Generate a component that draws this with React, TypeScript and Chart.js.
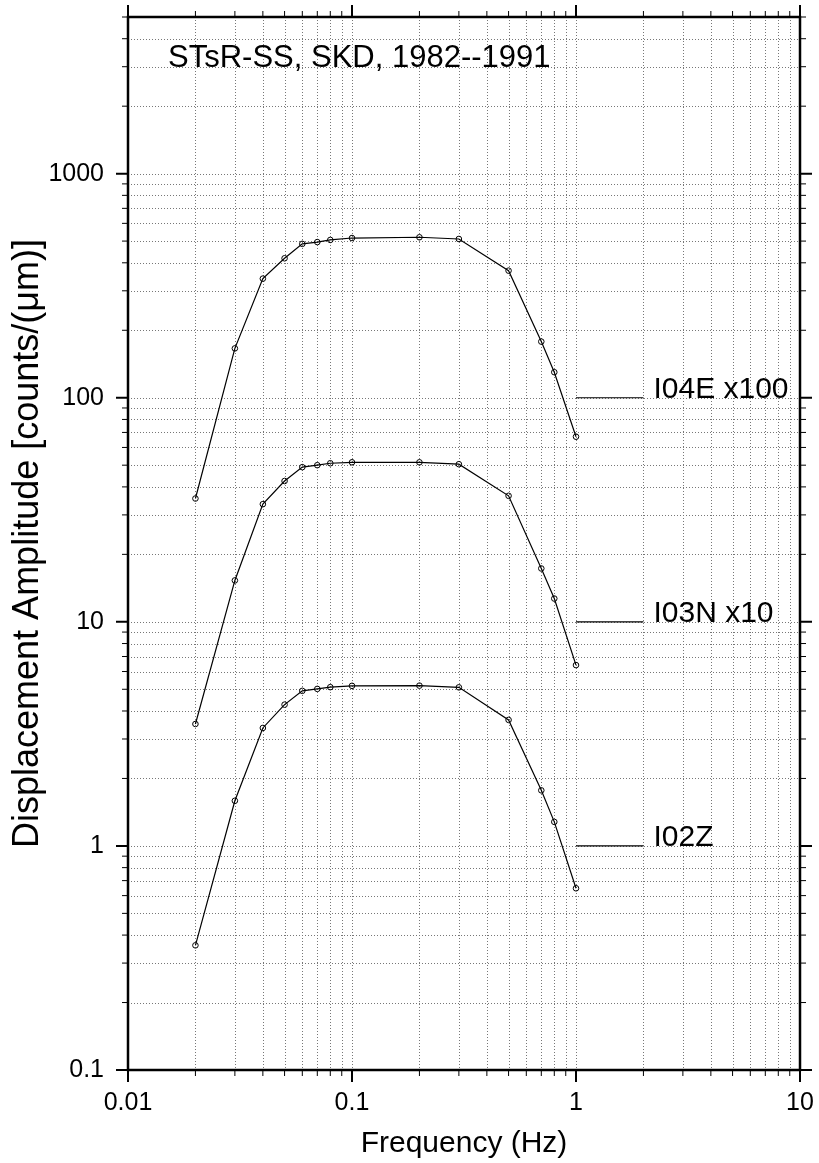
import React, { useEffect, useRef } from 'react';
import { Chart, registerables } from 'chart.js';

Chart.register(...registerables);

// ---- data ----
const freqs = [0.02, 0.03, 0.04, 0.05, 0.06, 0.07, 0.08, 0.1, 0.2, 0.3, 0.5, 0.7, 0.8, 1.0];
const i02z = [0.36, 1.59, 3.36, 4.27, 4.92, 5.02, 5.11, 5.18, 5.19, 5.1, 3.65, 1.77, 1.28, 0.647];
const i03n = [3.5, 15.3, 33.5, 42.5, 49, 50, 51, 51.5, 51.5, 50.5, 36.5, 17.3, 12.7, 6.41];
const i04e = [35.5, 166, 340, 419, 486, 495, 506, 516, 520, 511, 369, 178, 130, 67];

const labelNames = ['I02Z', 'I03N x10', 'I04E x100'];
const labelLevels = [1, 10, 100];
const labelFreqs = [1, 2];

const xMin = 0.01;
const xMax = 10;
const yMin = 0.1;
const yMax = 5000;

const titleText = 'STsR-SS, SKD, 1982--1991';
const xTitle = 'Frequency (Hz)';
const yTitle = 'Displacement Amplitude [counts/(\u03bcm)]';

const FONT = '"Liberation Sans", Arial, Helvetica, sans-serif';

function logTicks(min: number, max: number): number[] {
  const out: number[] = [];
  for (let e = Math.floor(Math.log10(min)); e <= Math.ceil(Math.log10(max)); e++) {
    for (let m = 1; m <= 9; m++) {
      const v = +(m * Math.pow(10, e)).toPrecision(6);
      if (v >= min * 0.999 && v <= max * 1.001) out.push(v);
    }
  }
  return out;
}
function isPow10(v: number) {
  const l = Math.log10(v);
  return Math.abs(l - Math.round(l)) < 1e-6;
}

const xTicks = logTicks(xMin, xMax);
const yTicks = logTicks(yMin, yMax);

const framePlugin = {
  id: 'framePlugin',
  beforeDatasetsDraw(chart: any) {
    const { ctx, chartArea: a, scales } = chart;
    const xs = scales.x, ys = scales.y;
    ctx.save();
    ctx.strokeStyle = '#777';
    ctx.lineWidth = 1;
    ctx.setLineDash([1, 2]);
    xTicks.forEach((v) => {
      if (v <= xMin || v >= xMax) return;
      const px = Math.round(xs.getPixelForValue(v)) + 0.5;
      ctx.beginPath();
      ctx.moveTo(px, a.top);
      ctx.lineTo(px, a.bottom);
      ctx.stroke();
    });
    yTicks.forEach((v) => {
      if (v <= yMin || v >= yMax) return;
      const py = Math.round(ys.getPixelForValue(v)) + 0.5;
      ctx.beginPath();
      ctx.moveTo(a.left, py);
      ctx.lineTo(a.right, py);
      ctx.stroke();
    });
    ctx.restore();
  },
  afterDatasetsDraw(chart: any) {
    const { ctx, chartArea: a, scales } = chart;
    const xs = scales.x, ys = scales.y;
    ctx.save();
    ctx.setLineDash([]);
    ctx.strokeStyle = '#000';
    xTicks.forEach((v) => {
      const major = isPow10(v);
      const len = major ? 12 : 6;
      ctx.lineWidth = major ? 2 : 1;
      const px = xs.getPixelForValue(v);
      ctx.beginPath();
      ctx.moveTo(px, a.bottom);
      ctx.lineTo(px, a.bottom + len);
      ctx.moveTo(px, a.top);
      ctx.lineTo(px, a.top - len);
      ctx.stroke();
    });
    yTicks.forEach((v) => {
      const major = isPow10(v);
      const len = major ? 12 : 6;
      ctx.lineWidth = major ? 2 : 1;
      const py = ys.getPixelForValue(v);
      ctx.beginPath();
      ctx.moveTo(a.left, py);
      ctx.lineTo(a.left - len, py);
      ctx.moveTo(a.right, py);
      ctx.lineTo(a.right + len, py);
      ctx.stroke();
    });
    ctx.lineWidth = 2.5;
    ctx.strokeRect(a.left, a.top, a.right - a.left, a.bottom - a.top);
    ctx.fillStyle = '#000';
    ctx.textAlign = 'left';
    ctx.textBaseline = 'alphabetic';
    ctx.font = `31px ${FONT}`;
    ctx.fillText(titleText, a.left + 40, a.top + 50);
    ctx.font = `30px ${FONT}`;
    labelNames.forEach((name, i) => {
      const px = xs.getPixelForValue(labelFreqs[1]) + 10;
      const py = ys.getPixelForValue(labelLevels[i]);
      ctx.fillText(name, px, py);
    });
    ctx.restore();
  },
};

export default function App() {
  const ref = useRef<HTMLCanvasElement | null>(null);
  useEffect(() => {
    if (!ref.current) return;
    const series = [i02z, i03n, i04e];
    const lineStyle = {
      borderColor: '#000',
      borderWidth: 1.2,
      pointRadius: 2.8,
      pointBorderWidth: 1,
      pointBorderColor: '#000',
      pointBackgroundColor: 'rgba(0,0,0,0)',
      fill: false,
      tension: 0,
    };
    const datasets: any[] = series.map((s, k) => ({
      label: labelNames[k],
      data: freqs.map((f, i) => ({ x: f, y: s[i] })),
      ...lineStyle,
    }));
    labelLevels.forEach((lv, k) => {
      datasets.push({
        label: labelNames[k] + ' marker',
        data: labelFreqs.map((f) => ({ x: f, y: lv })),
        borderColor: '#000',
        borderWidth: 1.2,
        pointRadius: 0,
        fill: false,
      });
    });
    const zeroPad = (s: any) => {
      s.paddingTop = 0;
      s.paddingBottom = 0;
      s.paddingLeft = 0;
      s.paddingRight = 0;
    };
    const chart = new Chart(ref.current, {
      type: 'line',
      data: { datasets },
      options: {
        responsive: false,
        animation: false,
        devicePixelRatio: 1,
        layout: { padding: { left: 0, right: 19, top: 17, bottom: 0 } },
        plugins: { legend: { display: false }, tooltip: { enabled: false } },
        scales: {
          x: {
            type: 'logarithmic',
            min: xMin,
            max: xMax,
            afterBuildTicks: (s: any) => {
              s.ticks = xTicks.map((v) => ({ value: v, major: isPow10(v) }));
            },
            afterFit: (s: any) => {
              s.height = 93;
              zeroPad(s);
            },
            grid: { display: false, drawTicks: false },
            border: { display: false },
            ticks: {
              autoSkip: false,
              maxRotation: 0,
              padding: 18,
              color: '#000',
              font: { family: FONT, size: 25 },
              callback: (v: any) => (isPow10(Number(v)) ? String(Number(v)) : ''),
            },
            title: {
              display: true,
              text: xTitle,
              color: '#000',
              font: { family: FONT, size: 30 },
              padding: { top: 0, bottom: 1 },
            },
          },
          y: {
            type: 'logarithmic',
            min: yMin,
            max: yMax,
            afterBuildTicks: (s: any) => {
              s.ticks = yTicks.map((v) => ({ value: v, major: isPow10(v) }));
            },
            afterFit: (s: any) => {
              s.width = 128;
              zeroPad(s);
            },
            grid: { display: false, drawTicks: false },
            border: { display: false },
            ticks: {
              autoSkip: false,
              padding: 24,
              color: '#000',
              font: { family: FONT, size: 25 },
              callback: (v: any) => (isPow10(Number(v)) ? String(Number(v)) : ''),
            },
            title: {
              display: true,
              text: yTitle,
              color: '#000',
              font: { family: FONT, size: 36 },
              padding: { top: 6, bottom: 0 },
            },
          },
        },
      },
      plugins: [framePlugin],
    });
    return () => chart.destroy();
  }, []);
  return (
    <div style={{ position: 'absolute', left: 0, top: 0, width: 819, height: 1163, background: '#fff' }}>
      <canvas ref={ref} width={819} height={1163} style={{ width: 819, height: 1163, display: 'block' }} />
    </div>
  );
}
